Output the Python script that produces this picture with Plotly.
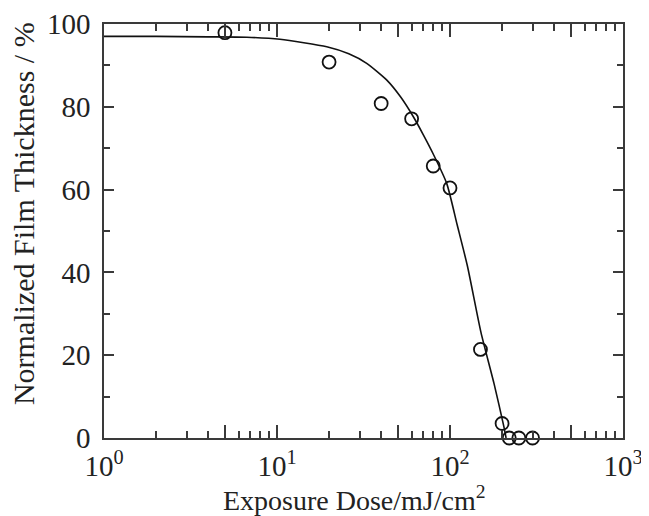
import plotly.graph_objects as go

# measured data points
dose = [5, 20, 40, 60, 80, 100, 150, 200, 220, 250, 300]
thickness = [97.9, 90.8, 80.8, 77.1, 65.7, 60.4, 21.4, 3.5, 0, 0, 0]

# fitted curve
fit_dose = [1, 2, 4, 6.7, 10.4, 19.4, 26, 33, 43, 52, 61.4, 70, 80, 95.7, 110, 126, 151, 180, 205, 211]
fit_thick = [97.0, 97.0, 96.9, 96.8, 96.3, 94.5, 92.8, 90.5, 86.5, 82.3, 77.6, 73.3, 68.6, 61.5, 51.5, 41.6, 25.5, 13.0, 2.7, 0.0]

x_major = [1, 5, 10, 50, 100, 500, 1000]
x_major_text = ["10<sup>0</sup>", "", "10<sup>1</sup>", "", "10<sup>2</sup>", "", "10<sup>3</sup>"]
x_minor = [m * d for d in (1, 10, 100) for m in (2, 3, 4, 6, 7, 8, 9)]
y_major = [0, 20, 40, 60, 80, 100]
y_minor = [10, 30, 50, 70, 90]

x_title = "Exposure Dose/mJ/cm<sup>2</sup>"
y_title = "Normalized Film Thickness / %"

axis_col = "#3a3a3a"
txt_col = "#222"
font = "Liberation Serif, Times New Roman, serif"

fig = go.Figure()
fig.add_trace(go.Scatter(x=fit_dose, y=fit_thick, mode="lines",
                         line=dict(color="#111", width=1.6, shape="spline", smoothing=0.6),
                         showlegend=False))
fig.add_trace(go.Scatter(x=dose, y=thickness, mode="markers",
                         marker=dict(symbol="circle-open", size=13, color="#111", line=dict(width=1.8)),
                         showlegend=False, cliponaxis=False))

common_x = dict(type="log", range=[0, 3], showgrid=False, zeroline=False, automargin=False,
                showline=True, linecolor=axis_col, linewidth=2,
                ticks="inside", ticklen=13, tickwidth=1.5, tickcolor=axis_col,
                minor=dict(tickvals=x_minor, ticks="inside", ticklen=7, tickwidth=1.5, tickcolor=axis_col, showgrid=False))
common_y = dict(range=[0, 100], showgrid=False, zeroline=False, automargin=False,
                showline=True, linecolor=axis_col, linewidth=2,
                ticks="inside", ticklen=10, tickwidth=1.5, tickcolor=axis_col,
                minor=dict(tickvals=y_minor, ticks="inside", ticklen=6, tickwidth=1.5, tickcolor=axis_col, showgrid=False))

# the page body has an 8px margin, so the figure is sized/offset to compensate
fig.update_layout(
    width=641, height=508,
    margin=dict(l=96, r=26, t=16, b=78),
    paper_bgcolor="white", plot_bgcolor="white",
    font=dict(family=font, size=29, color=txt_col),
    xaxis=dict(**common_x, tickmode="array", tickvals=x_major, ticktext=x_major_text,
               tickfont=dict(size=29, color=txt_col), ticklabelstandoff=1),
    yaxis=dict(**common_y, tickmode="array", tickvals=y_major,
               ticktext=[str(v) + "\u2009" for v in y_major],
               tickfont=dict(size=29, color=txt_col)),
    xaxis2=dict(**common_x, overlaying="x", side="top", tickmode="array", tickvals=x_major,
                showticklabels=False, matches="x"),
    yaxis2=dict(**common_y, overlaying="y", side="right", tickmode="array", tickvals=y_major,
                showticklabels=False, matches="y"),
    annotations=[
        dict(text=x_title, xref="paper", yref="paper", x=0.482, y=-0.146,
             xanchor="center", yanchor="middle", showarrow=False,
             font=dict(size=28, color=txt_col, family=font)),
        dict(text=y_title, xref="paper", yref="paper", x=-0.156, y=0.541,
             xanchor="center", yanchor="middle", showarrow=False, textangle=-90,
             font=dict(size=30, color=txt_col, family=font)),
    ],
)
# invisible trace to activate the mirrored axes
fig.add_trace(go.Scatter(x=[1], y=[50], xaxis="x2", yaxis="y2", mode="markers",
                         marker=dict(opacity=0), showlegend=False, hoverinfo="skip"))

fig.write_html("out.html")
